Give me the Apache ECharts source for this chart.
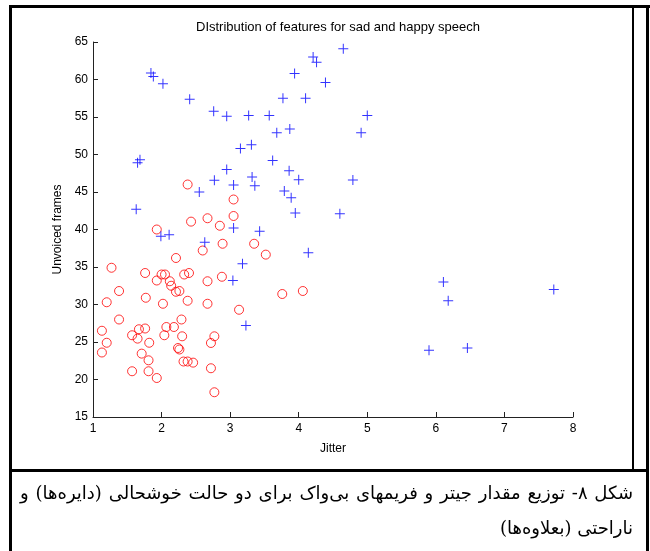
<!DOCTYPE html>
<html>
<head>
<meta charset="utf-8">
<script src="https://cdn.jsdelivr.net/npm/echarts@6/dist/echarts.min.js"></script>
<style>
  body { margin: 0; background: #fff; }
  #wrap { position: relative; width: 650px; height: 551px; overflow: hidden; }
  #main { position: absolute; left: 0; top: 0; width: 650px; height: 551px; }
  .ln { position: absolute; background: #000; }
  .cap { position: absolute; font-family: 'DejaVu Serif', 'DejaVu Sans', serif; font-size: 18px; color: #000; white-space: nowrap; direction: rtl; line-height: 26px; }
</style>
</head>
<body>
<div id="wrap">
  <div id="main"></div>
  <div class="ln" style="left:9px;top:5px;width:641px;height:3px"></div>
  <div class="ln" style="left:9px;top:5px;width:3px;height:546px"></div>
  <div class="ln" style="left:632px;top:5px;width:2px;height:466px"></div>
  <div class="ln" style="left:646px;top:5px;width:3px;height:546px"></div>
  <div class="ln" style="left:9px;top:469px;width:640px;height:3px"></div>
  <div class="cap" style="left:20px;width:613px;top:480px;text-align:justify;text-align-last:justify">شکل ۸- توزیع مقدار جیتر و فریمهای بی‌واک برای دو حالت خوشحالی (دایره‌ها) و</div>
  <div class="cap" style="right:17px;top:515px;text-align:right">ناراحتی (بعلاوه‌ها)</div>
</div>
<script>
// happy speech (circles)
const happyJitter = [2.38, 3.05, 3.05, 2.43, 2.67, 2.85, 1.93, 2.89, 3.35, 3.52, 2.60, 2.21, 1.27, 1.76, 2.00, 2.05,
    2.33, 2.40, 2.88, 2.67, 1.93, 2.12, 2.14, 2.21, 2.26, 1.38, 1.77, 2.38, 1.20, 2.02, 2.67, 3.13, 3.76, 4.06,
    1.38, 2.29, 1.13, 1.67, 1.76, 2.07, 2.18, 1.57, 1.65, 2.04, 2.30, 2.77, 1.20, 1.82, 2.72, 1.13, 1.71, 2.24,
    2.26, 1.81, 2.32, 2.38, 2.46, 1.57, 1.81, 2.72, 1.93, 2.77]
const happyFrames = [46.0, 44.0, 41.8, 41.05, 41.5, 40.5, 40.0, 38.1, 38.1, 36.65, 37.2, 36.2, 34.9, 34.2, 34.0, 34.0,
    34.0, 34.2, 33.7, 33.1, 33.2, 33.1, 32.5, 31.7, 31.8, 31.8, 30.9, 30.5, 30.3, 30.1, 30.1, 29.3, 31.4, 31.8,
    28.0, 28.0, 26.5, 26.7, 26.8, 27.0, 27.0, 25.9, 25.45, 25.9, 25.76, 25.76, 24.9, 24.9, 24.87, 23.6, 23.45, 24.2,
    24.0, 22.56, 22.4, 22.4, 22.25, 21.1, 21.1, 21.5, 20.2, 18.3]
// sad speech (plus signs)
const sadJitter = [1.845, 1.88, 2.02, 2.41, 2.76, 2.95, 3.27, 3.57, 3.77, 4.10, 3.94, 4.21, 4.26, 4.39, 4.65, 5.00,
    4.91, 4.79, 4.60, 3.68, 3.87, 3.15, 3.31, 1.685, 1.65, 3.62, 2.95, 3.86, 4.00, 2.77, 3.32, 3.05, 3.36, 3.79,
    3.89, 2.55, 1.63, 3.95, 1.99, 2.11, 3.05, 3.43, 2.63, 3.18, 4.14, 3.04, 3.23, 6.11, 6.18, 7.72, 5.90, 6.46]
const sadFrames = [60.87, 60.4, 59.45, 57.36, 55.76, 55.1, 55.2, 55.2, 57.5, 57.5, 60.8, 63.0, 62.3, 59.6, 64.1, 55.2,
    52.9, 46.6, 42.1, 52.9, 53.4, 50.8, 51.3, 49.3, 48.9, 49.2, 48.0, 47.85, 46.65, 46.56, 47.0, 45.93, 45.85, 45.13,
    44.25, 45.0, 42.7, 42.2, 39.1, 39.3, 40.2, 39.76, 38.3, 35.45, 36.9, 33.2, 27.2, 33.0, 30.5, 32.0, 23.9, 24.2]

const font = 'Liberation Sans, Arial, sans-serif'
const plus = 'path://M0,4.5L10,4.5L10,5.5L0,5.5Z M4.5,0L5.5,0L5.5,10L4.5,10Z'

const myChart = echarts.init(document.getElementById('main'))
myChart.setOption({
    animation: false,
    title: {
        text: 'DIstribution of features for sad and happy speech',
        left: 333,
        textAlign: 'center',
        top: 16,
        textStyle: { color: '#000', fontSize: 13, fontWeight: 'normal', fontFamily: font }
    },
    grid: { left: 93, right: 77, top: 42, bottom: 134 },
    xAxis: {
        type: 'value', min: 1, max: 8, interval: 1,
        name: 'Jitter', nameLocation: 'middle', nameGap: 26,
        nameTextStyle: { color: '#000', fontSize: 12, fontFamily: font },
        axisLine: { onZero: false, lineStyle: { color: '#222', width: 1 } },
        axisTick: { inside: true, length: 5, lineStyle: { color: '#222' } },
        axisLabel: { color: '#000', fontSize: 12, fontFamily: font, margin: 6 },
        splitLine: { show: false }
    },
    yAxis: {
        type: 'value', min: 15, max: 65, interval: 5,
        name: 'Unvoiced frames', nameLocation: 'middle', nameGap: 29,
        nameTextStyle: { color: '#000', fontSize: 12, fontFamily: font },
        axisLine: { show: true, onZero: false, lineStyle: { color: '#222', width: 1 } },
        axisTick: { show: true, inside: true, length: 5, lineStyle: { color: '#222' } },
        axisLabel: { color: '#000', fontSize: 12, fontFamily: font, margin: 5 },
        splitLine: { show: false }
    },
    series: [{
        type: 'scatter',
        data: happyJitter.map((x, i) => [x, happyFrames[i]]),
        symbol: 'circle',
        symbolSize: 9,
        itemStyle: { color: 'transparent', borderColor: '#ff0000', borderWidth: 1 }
    }, {
        type: 'scatter',
        data: sadJitter.map((x, i) => [x, sadFrames[i]]),
        symbol: plus,
        symbolSize: 10,
        itemStyle: { color: '#0000ff' }
    }]
})
</script>
</body>
</html>
